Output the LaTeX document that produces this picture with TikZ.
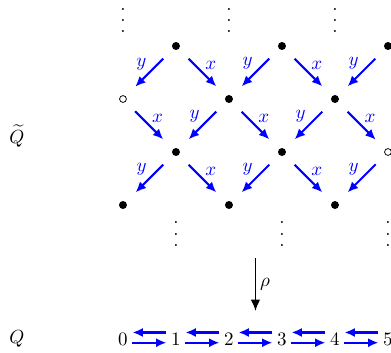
\documentclass[tikz,border=0pt]{standalone}
\usepackage{amsmath,amssymb}
\usetikzlibrary{arrows.meta}
\newcommand{\tdots}{\vbox{\baselineskip=6pt\lineskiplimit=0pt\hbox{.}\hbox{.}\hbox{.}}}

\begin{document}
\begin{tikzpicture}[x=0.98cm,y=0.98cm,
  pt/.style={circle,fill,inner sep=0pt,minimum size=4.2pt},
  op/.style={circle,draw,thin,inner sep=0pt,minimum size=3.6pt},
  ar/.style={blue,line width=1.1pt,-{Latex[length=5.5pt,width=4.8pt]},shorten <=0.25cm,shorten >=0.25cm},
  ar2/.style={blue,line width=1.1pt,-{Latex[length=5.5pt,width=4.8pt]}},
  lb/.style={inner sep=1pt},
  num/.style={inner sep=2.3pt}]
\useasboundingbox (-2.32,0.868) rectangle (5.057,-5.792);
% covering quiver
\node[pt] (a1) at (1,0) {};
\node[pt] (a3) at (3,0) {};
\node[pt] (a5) at (5,0) {};
\node[op] (b0) at (0,-1) {};
\node[pt] (b2) at (2,-1) {};
\node[pt] (b4) at (4,-1) {};
\node[pt] (c1) at (1,-2) {};
\node[pt] (c3) at (3,-2) {};
\node[op] (c5) at (5,-2) {};
\node[pt] (d0) at (0,-3) {};
\node[pt] (d2) at (2,-3) {};
\node[pt] (d4) at (4,-3) {};
\draw[ar] (a1) -- node[lb,above left] {$y$} (b0);
\draw[ar] (a1) -- node[lb,above right] {$x$} (b2);
\draw[ar] (a3) -- node[lb,above left] {$y$} (b2);
\draw[ar] (a3) -- node[lb,above right] {$x$} (b4);
\draw[ar] (a5) -- node[lb,above left] {$y$} (b4);
\draw[ar] (b0) -- node[lb,above right] {$x$} (c1);
\draw[ar] (b2) -- node[lb,above left] {$y$} (c1);
\draw[ar] (b2) -- node[lb,above right] {$x$} (c3);
\draw[ar] (b4) -- node[lb,above left] {$y$} (c3);
\draw[ar] (b4) -- node[lb,above right] {$x$} (c5);
\draw[ar] (c1) -- node[lb,above left] {$y$} (d0);
\draw[ar] (c1) -- node[lb,above right] {$x$} (d2);
\draw[ar] (c3) -- node[lb,above left] {$y$} (d2);
\draw[ar] (c3) -- node[lb,above right] {$x$} (d4);
\draw[ar] (c5) -- node[lb,above left] {$y$} (d4);
% continuing dots
\node (t0) at (0,0.48) {\tdots};
\node (t2) at (2,0.48) {\tdots};
\node (t4) at (4,0.48) {\tdots};
\node (s1) at (1,-3.55) {\tdots};
\node (s3) at (3,-3.55) {\tdots};
\node (s5) at (5,-3.55) {\tdots};
% covering map
\coordinate (r1) at (2.5,-4);
\coordinate (r2) at (2.5,-5);
\draw[-{Latex[length=6pt,width=5pt]},line width=0.8pt] (r1) -- node[right,inner sep=2pt] {$\rho$} (r2);
% base quiver
\node[num] (n0) at (0,-5.53) {$0$};
\node[num] (n1) at (1,-5.53) {$1$};
\node[num] (n2) at (2,-5.53) {$2$};
\node[num] (n3) at (3,-5.53) {$3$};
\node[num] (n4) at (4,-5.53) {$4$};
\node[num] (n5) at (5,-5.53) {$5$};
\draw[ar2] ([yshift=3.5pt]n1.west) -- ([yshift=3.5pt]n0.east);
\draw[ar2] ([yshift=-1.9pt]n0.east) -- ([yshift=-1.9pt]n1.west);
\draw[ar2] ([yshift=3.5pt]n2.west) -- ([yshift=3.5pt]n1.east);
\draw[ar2] ([yshift=-1.9pt]n1.east) -- ([yshift=-1.9pt]n2.west);
\draw[ar2] ([yshift=3.5pt]n3.west) -- ([yshift=3.5pt]n2.east);
\draw[ar2] ([yshift=-1.9pt]n2.east) -- ([yshift=-1.9pt]n3.west);
\draw[ar2] ([yshift=3.5pt]n4.west) -- ([yshift=3.5pt]n3.east);
\draw[ar2] ([yshift=-1.9pt]n3.east) -- ([yshift=-1.9pt]n4.west);
\draw[ar2] ([yshift=3.5pt]n5.west) -- ([yshift=3.5pt]n4.east);
\draw[ar2] ([yshift=-1.9pt]n4.east) -- ([yshift=-1.9pt]n5.west);
% labels
\node (qt) at (-2,-1.7) {$\widetilde{Q}$};
\node (q) at (-2,-5.53) {$Q$};
\end{tikzpicture}
\end{document}
